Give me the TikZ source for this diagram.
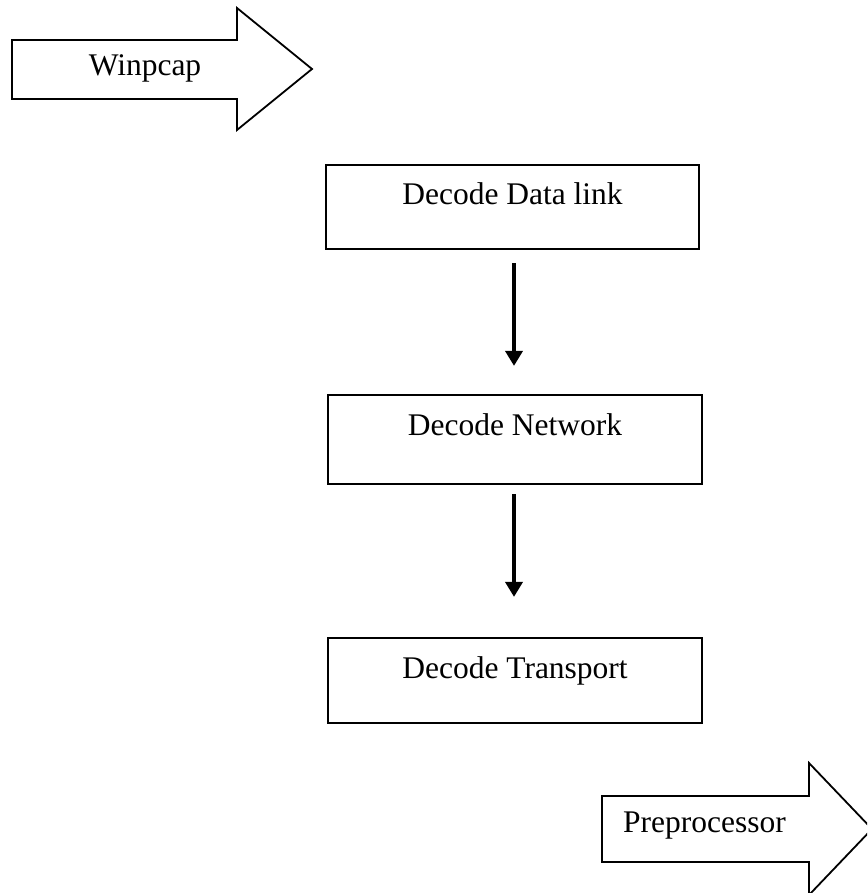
\documentclass[tikz,border=0pt]{standalone}
\usepackage{fontspec}
\setmainfont{Liberation Serif}
\usetikzlibrary{arrows.meta}
\begin{document}
\begin{tikzpicture}[x=1pt,y=-1pt,
  font=\fontsize{31.5}{37}\selectfont,
  stagebox/.style={draw,line width=2.2pt,inner sep=0pt,text height=40pt,align=center},
  bigarrow/.style={draw,line width=1.8pt,line join=miter},
  conn/.style={line width=3.6pt,-{Triangle[width=17pt,length=15pt]}},
  lbl/.style={anchor=base,inner sep=0pt}]
\useasboundingbox (0,0) rectangle (867,893);
\clip (0,0) rectangle (867,893);
\fill[white] (0,0) rectangle (867,893);
% Winpcap arrow
\draw[bigarrow] (12,40) -- (237,40) -- (237,8) -- (312,69) -- (237,130) -- (237,99) -- (12,99) -- cycle;
\node[lbl] (win) at (145,76) {Winpcap};
% stage boxes
\node[stagebox,minimum width=373pt,text depth=44pt] (b1) at (512.5,207) {Decode Data link};
\node[stagebox,minimum width=374pt,text depth=49pt] (b2) at (515,439.5) {Decode Network};
\node[stagebox,minimum width=374pt,text depth=45pt] (b3) at (515,680.5) {Decode Transport};
% connectors
\draw[conn,shorten <=13pt,shorten >=28pt] ([xshift=1.5pt]b1.south) -- ([xshift=-1pt]b2.north);
\draw[conn,shorten <=9pt,shorten >=40pt] ([xshift=-1pt]b2.south) -- ([xshift=-1pt]b3.north);
% Preprocessor arrow
\draw[bigarrow] (602,796) -- (809,796) -- (809,763) -- (872,829) -- (809,895) -- (809,862) -- (602,862) -- cycle;
\node[lbl,anchor=base west] (pre) at (623,832) {Preprocessor};
\end{tikzpicture}
\end{document}
